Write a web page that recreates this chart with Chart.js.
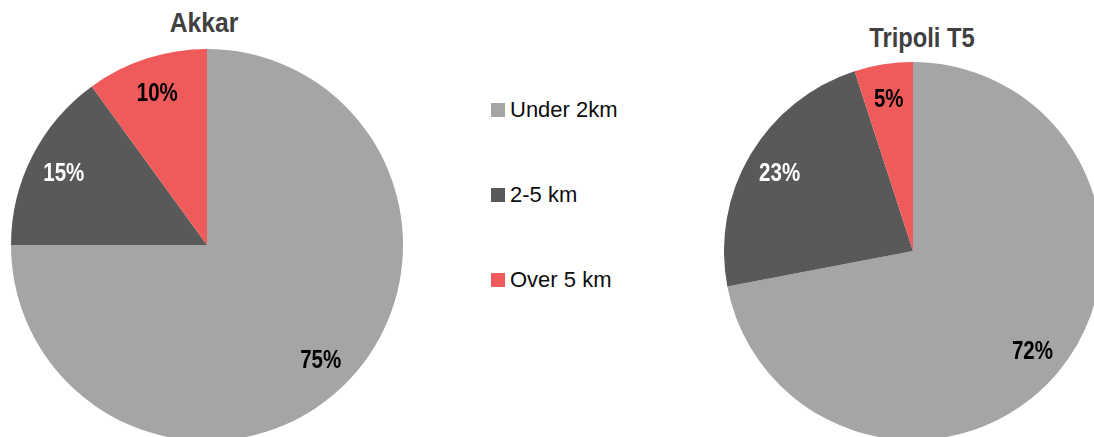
<!DOCTYPE html>
<html>
<head>
<meta charset="utf-8">
<script src="https://cdn.jsdelivr.net/npm/chart.js@4/dist/chart.umd.min.js"></script>
<style>
  html, body { margin: 0; padding: 0; width: 1094px; height: 437px; overflow: hidden; background: #fff; }
  body { position: relative; font-family: 'Liberation Sans', Arial, sans-serif; }
  .pie { position: absolute; }
  .title { position: absolute; font-weight: bold; color: #404040; white-space: nowrap; transform: translateX(-50%) scaleX(0.88); }
  #legend { position: absolute; left: 491px; top: 0; }
  .item { position: absolute; white-space: nowrap; font-size: 22px; line-height: 22px; color: #0d0d0d; }
  .box { display: inline-block; width: 14px; height: 14px; margin-right: 5px; vertical-align: baseline; }
</style>
</head>
<body>
<div class="title" style="left:204px; top:9px; font-size:28px; line-height:28px;">Akkar</div>
<div class="title" style="left:922px; top:25px; font-size:27px; line-height:27px;">Tripoli T5</div>
<canvas id="akkarChart" class="pie" width="392" height="392" style="left:11px; top:49px;"></canvas>
<canvas id="tripoliChart" class="pie" width="378" height="378" style="left:724px; top:62px;"></canvas>
<div id="legend"></div>

<script>
const categories = ['Under 2km', '2-5 km', 'Over 5 km'];
const akkarValues = [75, 15, 10];
const tripoliValues = [72, 23, 5];
const sliceColors = ['#A5A5A5', '#595959', '#EF5A5A'];
const labelColors = ['#000000', '#FFFFFF', '#000000'];

// percent labels sitting inside each slice (squeezed a bit to look like a narrow face)
const sliceLabels = {
    id: 'sliceLabels',
    afterDatasetsDraw(chart) {
        const ctx = chart.ctx;
        const meta = chart.getDatasetMeta(0);
        const data = chart.data.datasets[0].data;
        meta.data.forEach(function (arc, i) {
            const p = arc.getProps(['x', 'y', 'startAngle', 'endAngle', 'outerRadius'], true);
            const mid = (p.startAngle + p.endAngle) / 2;
            const r = p.outerRadius * 0.82;
            ctx.save();
            ctx.translate(p.x + Math.cos(mid) * r, p.y + Math.sin(mid) * r + 2);
            ctx.scale(0.82, 1);
            ctx.font = "bold 25px 'Liberation Sans', Arial, sans-serif";
            ctx.textAlign = 'center';
            ctx.textBaseline = 'middle';
            ctx.fillStyle = labelColors[i];
            ctx.fillText(data[i] + '%', 0, 0);
            ctx.restore();
        });
    }
};

function makePie(id, values) {
    const canvas = document.getElementById(id);
    if (!canvas) {
        console.error('Canvas element not found');
        return;
    }
    return new Chart(canvas.getContext('2d'), {
        type: 'pie',
        data: {
            labels: categories,
            datasets: [{
                data: values,
                backgroundColor: sliceColors,
                borderWidth: 0
            }]
        },
        options: {
            responsive: false,
            animation: false,
            layout: { padding: 0 },
            plugins: {
                legend: { display: false },
                tooltip: { enabled: false }
            }
        },
        plugins: [sliceLabels]
    });
}

makePie('akkarChart', akkarValues);
makePie('tripoliChart', tripoliValues);

// legend built from the same arrays
const legend = document.getElementById('legend');
const legendTops = [99, 184, 269];
categories.forEach(function (name, i) {
    const item = document.createElement('div');
    item.className = 'item';
    item.style.top = legendTops[i] + 'px';
    item.innerHTML = '<span class="box" style="background:' + sliceColors[i] + '"></span>' + name;
    legend.appendChild(item);
});
</script>
</body>
</html>
